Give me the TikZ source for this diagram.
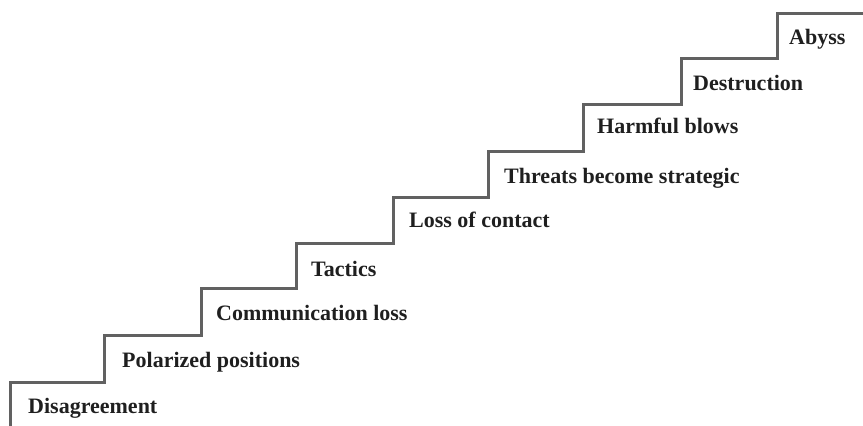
\documentclass[tikz,border=0pt]{standalone}
\usepackage{fontspec}
\setmainfont{Liberation Serif}
\begin{document}
\begin{tikzpicture}[x=1pt,y=-1pt,
  stair/.style={draw=black!62,line width=3pt,line join=miter},
  stepname/.style={anchor=base west,inner sep=0pt,text=black!88,
    font=\fontsize{22}{24}\selectfont\bfseries}]
  \useasboundingbox (0,0) rectangle (863,426);
  % corners of the staircase: each tread starts at (xk, yk)
  \coordinate (s0) at (10,382);
  \coordinate (s1) at (104,335);
  \coordinate (s2) at (201,288);
  \coordinate (s3) at (296,243);
  \coordinate (s4) at (393,197);
  \coordinate (s5) at (488,151);
  \coordinate (s6) at (583,104);
  \coordinate (s7) at (681,58);
  \coordinate (s8) at (777,13);
  \coordinate (base) at (10,427);
  \coordinate (top) at (864,13);
  \draw[stair] (base) -- (s0) -| (s1) -| (s2) -| (s3) -| (s4) -| (s5)
    -| (s6) -| (s7) -| (s8) -- (top);
  % one label on each tread
  \node[stepname] (l0) at (28,413) {Disagreement};
  \node[stepname] (l1) at (122,367) {Polarized positions};
  \node[stepname] (l2) at (216,320) {Communication loss};
  \node[stepname] (l3) at (311,276) {Tactics};
  \node[stepname] (l4) at (409,227) {Loss of contact};
  \node[stepname] (l5) at (504,183) {Threats become strategic};
  \node[stepname] (l6) at (597,133) {Harmful blows};
  \node[stepname] (l7) at (693,90) {Destruction};
  \node[stepname] (l8) at (789,44) {Abyss};
\end{tikzpicture}
\end{document}
